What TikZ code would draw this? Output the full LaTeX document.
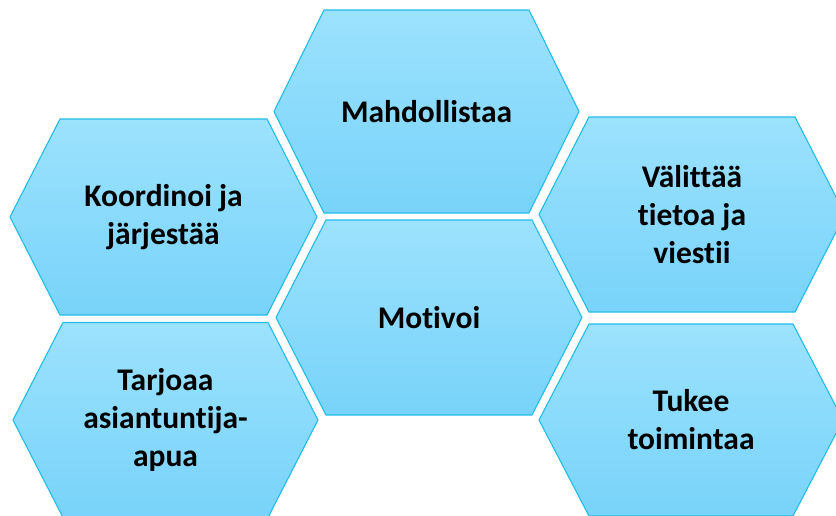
\documentclass[tikz,border=0pt]{standalone}
\usepackage{fontspec}
\setmainfont{Carlito}[RawFeature={-liga;-clig;-dlig}]
\definecolor{hexTop}{HTML}{9CE2FD}
\definecolor{hexBot}{HTML}{78D3FA}
\definecolor{hexLine}{HTML}{22BDE6}
\tikzset{
  hexshape/.style={draw=hexLine, line width=1.1pt, top color=hexTop, bottom color=hexBot, line join=miter},
  hexlabel/.style={align=center, font=\bfseries\fontsize{31.5}{38}\selectfont, text=black, inner sep=0pt}
}
\newcommand\hexcell[6]{% cx, cy, halfwidth, halfheight, name, text
  \begin{scope}[shift={(#1,#2)}]
    \path[hexshape] (-#3,0) -- (-#3+50,-#4) -- (#3-50,-#4) -- (#3,0) -- (#3-50,#4) -- (-#3+50,#4) -- cycle;
    \node[hexlabel] (#5) at (0,0) {#6};
  \end{scope}}
\begin{document}
\begin{tikzpicture}[x=1pt,y=-1pt]
\useasboundingbox (0,0) rectangle (836,515);
\begin{scope}
\clip (0,0) rectangle (836,515);
\hexcell{426.5}{111.5}{152.5}{101.5}{mahd}{Mahdollistaa}
\hexcell{429}{317.5}{153}{97.5}{motiv}{Motivoi}
\hexcell{163.5}{217}{153.5}{98}{koord}{Koordinoi ja\\järjestää}
\hexcell{165.5}{420}{152.5}{97.5}{tarj}{Tarjoaa\\asiantuntija-\\apua}
\hexcell{692}{214.5}{153}{97.5}{valit}{Välittää\\tietoa ja\\viestii}
\hexcell{691}{420}{152}{96}{tukee}{Tukee\\toimintaa}
\end{scope}
\end{tikzpicture}
\end{document}
